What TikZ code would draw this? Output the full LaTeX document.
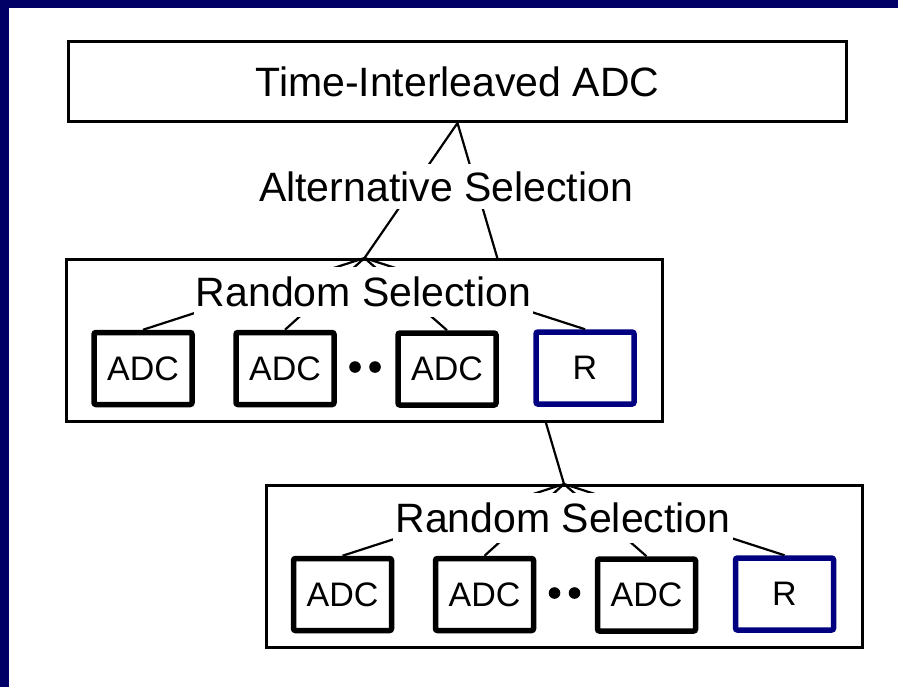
\documentclass[tikz,border=0pt]{standalone}
\usepackage{fontspec}
\setmainfont{Liberation Sans}
\usepackage{tikz}

\definecolor{framenavy}{RGB}{0,0,102}
\definecolor{recnavy}{RGB}{0,0,128}

\begin{document}
\begin{tikzpicture}[x=0.5pt,y=-0.5pt,
        blockbox/.style={draw,line width=1.5pt,fill=white,inner sep=0pt},
        groupbox/.style={blockbox,minimum width=298pt,minimum height=81pt},
        adcbox/.style={draw,line width=2.75pt,rounded corners=1pt,fill=white,
            minimum width=49pt,minimum height=36pt,inner sep=0pt,
            font=\fontsize{17pt}{20pt}\selectfont},
        recbox/.style={adcbox,draw=recnavy},
        sellabel/.style={fill=white,inner xsep=1pt,inner ysep=5pt,
            font=\fontsize{20.5pt}{24pt}\selectfont},
        link/.style={line width=1.1pt}]
        \useasboundingbox (0,0) rectangle (898,687);
        \fill [framenavy] (0,0) rectangle (898,7.5);
        \fill [framenavy] (0,0) rectangle (8.5,687);

        \node [blockbox,minimum width=389pt,minimum height=40pt,
            font=\fontsize{20.5pt}{24pt}\selectfont] (tiadc) at (457.5,81.5) {Time-Interleaved ADC};
        \node [groupbox] (lowsel) at (564,566.5) {};
        \draw [link] (tiadc.south) -- (lowsel.north);
        \node [groupbox] (midsel) at (364.5,340.5) {};
        \draw [link] (tiadc.south) -- (midsel.north);
        \node [sellabel,inner ysep=3.5pt] (altsel) at (446,186.5) {Alternative Selection};

        % first level
        \begin{scope}
            \node [adcbox] (madc1) at (143,368.5) {ADC};
            \node [adcbox] (madc2) at (285,368.5) {ADC};
            \node [adcbox] (madc3) at (447,369) {ADC};
            \node [recbox] (mrec) at (585,368) {R};
            \fill (355,367) circle [radius=2.9pt];
            \fill (375,367) circle [radius=2.9pt];
            \draw [link] (madc1.north) -- (midsel.north);
            \draw [link] (madc2.north) -- (midsel.north);
            \draw [link] (madc3.north) -- (midsel.north);
            \draw [link] (mrec.north) -- (midsel.north);
            \node [sellabel] (mrand) at (363.5,292) {Random Selection};
        \end{scope}

        % second level
        \begin{scope}
            \node [adcbox] (ladc1) at (342.5,594.5) {ADC};
            \node [adcbox] (ladc2) at (484.5,594.5) {ADC};
            \node [adcbox] (ladc3) at (646.5,595) {ADC};
            \node [recbox] (lrec) at (784.5,594) {R};
            \fill (554.5,593) circle [radius=2.9pt];
            \fill (574.5,593) circle [radius=2.9pt];
            \draw [link] (ladc1.north) -- (lowsel.north);
            \draw [link] (ladc2.north) -- (lowsel.north);
            \draw [link] (ladc3.north) -- (lowsel.north);
            \draw [link] (lrec.north) -- (lowsel.north);
            \node [sellabel] (lrand) at (563,518) {Random Selection};
        \end{scope}
    \end{tikzpicture}
\end{document}
